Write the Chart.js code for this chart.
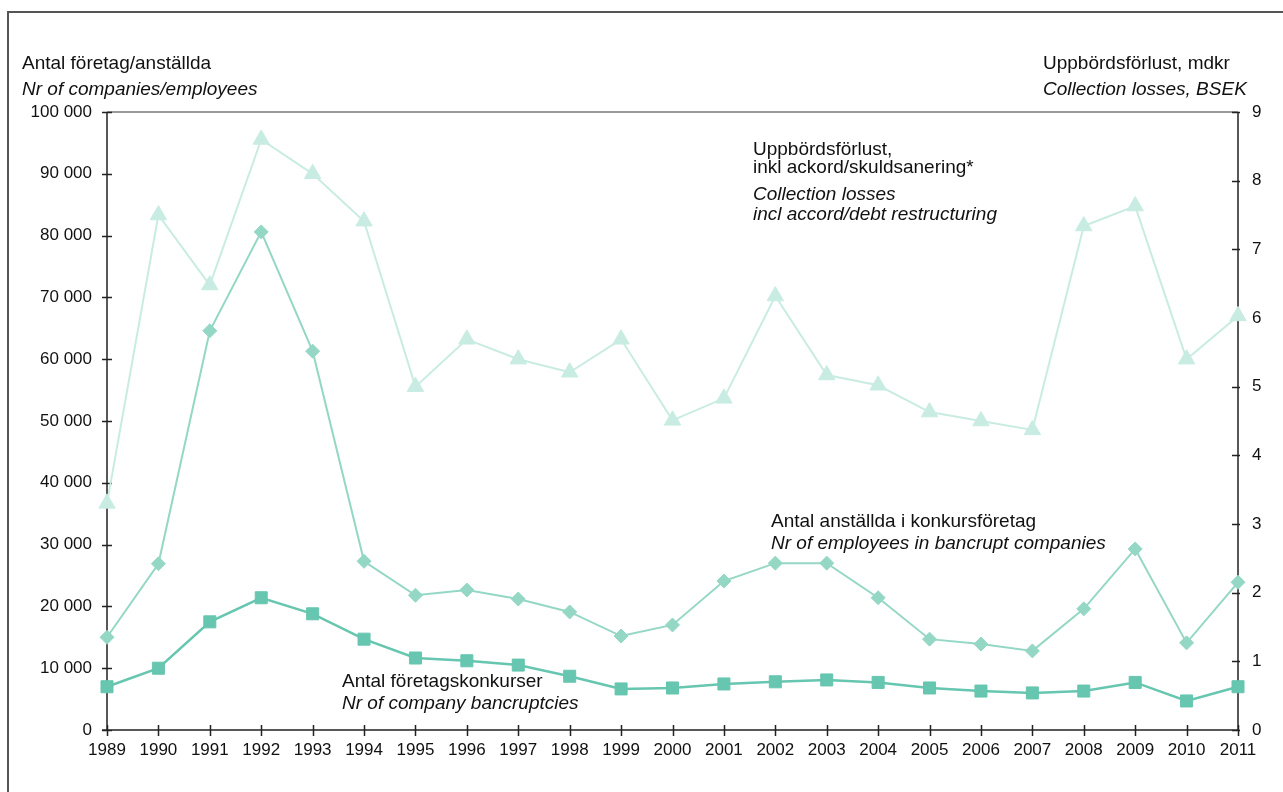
<!DOCTYPE html>
<html>
<head>
<meta charset="utf-8">
<script src="https://cdn.jsdelivr.net/npm/chart.js@4/dist/chart.umd.min.js"></script>
<style>
  html, body { margin: 0; padding: 0; background: #fff; }
</style>
</head>
<body>
<canvas id="chart" width="1283" height="792"></canvas>
<script>
// Years on the x axis
const years = ['1989', '1990', '1991', '1992', '1993', '1994', '1995', '1996', '1997', '1998', '1999',
               '2000', '2001', '2002', '2003', '2004', '2005', '2006', '2007', '2008', '2009', '2010', '2011'];

// Antal företagskonkurser (left axis)
const bankruptcies = [7000, 10000, 17500, 21400, 18800, 14700, 11650, 11200, 10500, 8700, 6650,
                      6800, 7450, 7800, 8100, 7700, 6800, 6300, 6000, 6300, 7700, 4700, 7000];

// Antal anställda i konkursföretag (left axis)
const employees = [15000, 26900, 64600, 80600, 61300, 27300, 21800, 22650, 21200, 19100, 15200,
                   17000, 24100, 27000, 27000, 21400, 14700, 13900, 12800, 19600, 29300, 14100, 23900];

// Uppbördsförlust, mdkr (right axis)
const losses = [3.3, 7.5, 6.48, 8.6, 8.1, 7.41, 5.0, 5.69, 5.4, 5.21, 5.69,
                4.51, 4.83, 6.32, 5.17, 5.02, 4.63, 4.5, 4.37, 7.34, 7.63, 5.4, 6.03];

const leftMax = 100000;
const leftStep = 10000;
const rightMax = 9;
const rightStep = 1;

const FONT = '"Liberation Sans", Arial, sans-serif';

function fmtThousands(v) {
    return String(v).replace(/\B(?=(\d{3})+(?!\d))/g, ' ');
}

// frame, axis lines, crossing tick marks
const axesPlugin = {
    id: 'axesPlugin',
    beforeDatasetsDraw(chart) {
        const ctx = chart.ctx;
        const a = chart.chartArea;
        const sx = chart.scales.x, sy = chart.scales.y, sy2 = chart.scales.y2;
        ctx.save();

        // outer frame (left + top)
        ctx.strokeStyle = '#555';
        ctx.lineWidth = 2;
        ctx.beginPath();
        ctx.moveTo(8, 792);
        ctx.lineTo(8, 12);
        ctx.lineTo(1283, 12);
        ctx.stroke();

        // top line of plot area
        ctx.strokeStyle = '#9a9a9a';
        ctx.lineWidth = 2;
        ctx.beginPath();
        ctx.moveTo(a.left, a.top);
        ctx.lineTo(a.right, a.top);
        ctx.stroke();

        ctx.strokeStyle = '#222';
        ctx.lineWidth = 1.5;
        ctx.beginPath();
        // left axis
        ctx.moveTo(a.left, a.top);
        ctx.lineTo(a.left, a.bottom);
        sy.ticks.forEach(t => {
            const y = Math.round(sy.getPixelForValue(t.value)) + 0.5;
            ctx.moveTo(a.left - 5, y);
            ctx.lineTo(a.left + 5, y);
        });
        // right axis
        ctx.moveTo(a.right, a.top);
        ctx.lineTo(a.right, a.bottom);
        sy2.ticks.forEach(t => {
            const y = Math.round(sy2.getPixelForValue(t.value)) + 0.5;
            ctx.moveTo(a.right - 6, y);
            ctx.lineTo(a.right + 2, y);
        });
        // x axis
        ctx.moveTo(a.left - 5, a.bottom);
        ctx.lineTo(a.right, a.bottom);
        sx.ticks.forEach((t, i) => {
            const x = Math.round(sx.getPixelForTick(i)) + 0.5;
            ctx.moveTo(x, a.bottom - 5);
            ctx.lineTo(x, a.bottom + 6);
        });
        ctx.stroke();
        ctx.restore();
    },
    afterDraw(chart) {
        const ctx = chart.ctx;
        ctx.save();
        ctx.fillStyle = '#111';
        ctx.textAlign = 'left';
        ctx.textBaseline = 'alphabetic';
        const plain = '19px ' + FONT;
        const ital = 'italic 19px ' + FONT;
        const put = (txt, x, y, f) => { ctx.font = f; ctx.fillText(txt, x, y); };

        // axis titles
        put('Antal företag/anställda', 22, 69, plain);
        put('Nr of companies/employees', 22, 95, ital);
        put('Uppbördsförlust, mdkr', 1043, 69, plain);
        put('Collection losses, BSEK', 1043, 95, ital);

        // series labels
        put('Uppbördsförlust,', 753, 155, plain);
        put('inkl ackord/skuldsanering*', 753, 173, plain);
        put('Collection losses', 753, 200, ital);
        put('incl accord/debt restructuring', 753, 220, ital);

        put('Antal anställda i konkursföretag', 771, 527, plain);
        put('Nr of employees in bancrupt companies', 771, 549, ital);

        put('Antal företagskonkurser', 342, 687, plain);
        put('Nr of company bancruptcies', 342, 709, ital);
        ctx.restore();
    }
};

const ctx = document.getElementById('chart').getContext('2d');
new Chart(ctx, {
    type: 'line',
    data: {
        labels: years,
        datasets: [{
            label: 'Antal företagskonkurser',
            data: bankruptcies,
            yAxisID: 'y',
            borderColor: 'rgb(102,198,176)',
            backgroundColor: 'rgb(102,198,176)',
            borderWidth: 2.5,
            pointStyle: 'rect',
            pointRadius: 8.5,
            pointBorderWidth: 1,
            tension: 0
        }, {
            label: 'Antal anställda i konkursföretag',
            data: employees,
            yAxisID: 'y',
            borderColor: 'rgb(148,215,197)',
            backgroundColor: 'rgb(148,215,197)',
            borderWidth: 2,
            pointStyle: 'rectRot',
            pointRadius: 7,
            pointBorderWidth: 1,
            tension: 0
        }, {
            label: 'Uppbördsförlust',
            data: losses,
            yAxisID: 'y2',
            borderColor: 'rgb(201,236,226)',
            backgroundColor: 'rgb(201,236,226)',
            borderWidth: 2,
            pointStyle: 'triangle',
            pointRadius: 9.5,
            pointBorderWidth: 1,
            tension: 0
        }]
    },
    options: {
        responsive: false,
        devicePixelRatio: 1,
        animation: false,
        layout: { padding: { top: 112, left: 0, right: 0, bottom: 0 } },
        plugins: {
            legend: { display: false },
            tooltip: { enabled: false }
        },
        scales: {
            x: {
                type: 'category',
                offset: false,
                grid: { display: false, drawTicks: false },
                border: { display: false },
                ticks: {
                    autoSkip: false, maxRotation: 0, padding: 10,
                    color: '#111', font: { family: FONT, size: 17 }
                },
                afterFit(s) { s.height = 62; }
            },
            y: {
                position: 'left',
                min: 0, max: leftMax,
                grid: { display: false, drawTicks: false },
                border: { display: false },
                ticks: {
                    stepSize: leftStep, padding: 15,
                    color: '#111', font: { family: FONT, size: 17 },
                    callback: v => fmtThousands(v)
                },
                afterFit(s) { s.width = 107; }
            },
            y2: {
                position: 'right',
                min: 0, max: rightMax,
                grid: { display: false, drawTicks: false },
                border: { display: false },
                ticks: {
                    stepSize: rightStep, padding: 14,
                    color: '#111', font: { family: FONT, size: 17 }
                },
                afterFit(s) { s.width = 45; }
            }
        }
    },
    plugins: [axesPlugin]
});
</script>
</body>
</html>
